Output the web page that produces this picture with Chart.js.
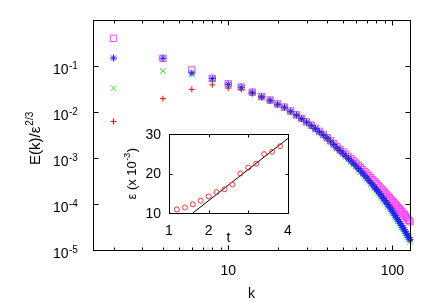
<!DOCTYPE html>
<html>
<head>
<meta charset="utf-8">
<script src="https://cdn.jsdelivr.net/npm/chart.js@4.4.1/dist/chart.umd.min.js"></script>
<style>
  body { margin: 0; background: #fff; }
  #wrap { position: relative; width: 436px; height: 305px; }
  #main { position: absolute; left: 0; top: 0; }
  #inset { position: absolute; left: 120px; top: 120px; }
</style>
</head>
<body>
<div id="wrap">
  <canvas id="main" width="436" height="305"></canvas>
  <canvas id="inset" width="190" height="130"></canvas>
</div>
<script>
// wavenumbers
const k = [2, 4, 6, 8, 10, 12, 14, 16, 18, 20, 22, 24, 26, 28, 30, 32, 34, 36, 38, 40,
  42, 44, 46, 48, 50, 52, 54, 56, 58, 60, 62, 64, 66, 68, 70, 72, 74, 76, 78, 80,
  82, 84, 86, 88, 90, 92, 94, 96, 98, 100, 102, 104, 106, 108, 110, 112, 114, 116, 118, 120,
  122, 124, 126, 128];

// magenta squares
const eSquare = [0.40, 0.147, 0.082, 0.054, 0.041, 0.035, 0.027, 0.0217, 0.0182, 0.0150,
  0.0128, 0.0105, 0.0087, 0.00727, 0.0061, 0.00518, 0.00443, 0.0038, 0.00327, 0.00277,
  0.00237, 0.00204, 0.00175, 0.00154, 0.00136, 0.00121, 0.00108, 0.000962, 0.000861, 0.000769,
  0.000689, 0.000618, 0.000557, 0.000501, 0.000451, 0.00041, 0.00037, 0.000337, 0.000307, 0.000279,
  0.000254, 0.000232, 0.000211, 0.000193, 0.000176, 0.000162, 0.000149, 0.000137, 0.000126, 0.000116,
  1.075e-4, 9.96e-5, 9.23e-5, 8.55e-5, 7.94e-5, 7.37e-5, 6.85e-5, 6.36e-5, 5.89e-5, 5.49e-5,
  5.11e-5, 4.76e-5, 4.42e-5, 4.12e-5];

// blue asterisks
const eStar = [0.149, 0.147, 0.0705, 0.0532, 0.040, 0.0345, 0.0268, 0.0215, 0.0180, 0.0148,
  0.0127, 0.0104, 0.00863, 0.00719, 0.00604, 0.00511, 0.00435, 0.00371, 0.00318, 0.00274,
  0.00232, 0.00197, 0.00167, 0.001455, 0.00127, 0.001114, 0.000977, 0.000861, 0.000759, 0.00067,
  0.000592, 0.000524, 0.000465, 0.000413, 0.000367, 0.000327, 0.00029, 0.000259, 0.000232, 0.000207,
  0.000185, 0.0001656, 0.0001483, 0.000133, 0.0001191, 0.0001071, 9.62e-5, 8.65e-5, 7.78e-5, 7.0e-5,
  6.3e-5, 5.68e-5, 5.12e-5, 4.61e-5, 4.17e-5, 3.76e-5, 3.4e-5, 3.07e-5, 2.77e-5, 2.51e-5,
  2.27e-5, 2.06e-5, 1.86e-5, 1.68e-5];

// green crosses
const eCross = [0.033, 0.078, 0.066, 0.050, 0.039, 0.034, 0.0258, 0.0206, 0.0172, 0.0142,
  0.0122, 0.0100, 0.00828, 0.0069, 0.00578, 0.00489, 0.00416, 0.00354, 0.00303, 0.00261,
  0.00221, 0.00187, 0.00158, 0.001378, 0.0012, 0.001052, 0.000921, 0.00081, 0.000713, 0.000629,
  0.000555, 0.00049, 0.000434, 0.000385, 0.000342, 0.000304, 0.00027, 0.00024, 0.000215, 0.000192,
  0.000171, 0.000153, 0.000137, 0.000123, 0.00011, 9.88e-5, 8.87e-5, 7.97e-5, 7.16e-5, 6.44e-5,
  5.8e-5, 5.22e-5, 4.7e-5, 4.23e-5, 3.82e-5, 3.44e-5, 3.11e-5, 2.81e-5, 2.53e-5, 2.29e-5,
  2.07e-5, 1.88e-5, 1.7e-5, 1.53e-5];

// red pluses
const ePlus = [0.0062, 0.0195, 0.031, 0.039, 0.033, 0.031, 0.025, 0.0205, 0.0172, 0.0143,
  0.0123, 0.0101, 0.00837, 0.00697, 0.00586, 0.00496, 0.00422, 0.0036, 0.00308, 0.00266,
  0.00225, 0.00191, 0.00162, 0.00141, 0.00123, 0.00108, 0.000948, 0.000835, 0.000736, 0.00065,
  0.000574, 0.000508, 0.000451, 0.000401, 0.000356, 0.000317, 0.000281, 0.000251, 0.000225, 0.000201,
  0.000179, 0.000161, 0.000144, 0.000129, 0.000116, 0.000104, 9.33e-5, 8.39e-5, 7.55e-5, 6.79e-5,
  6.11e-5, 5.51e-5, 4.97e-5, 4.47e-5, 4.04e-5, 3.65e-5, 3.3e-5, 2.98e-5, 2.69e-5, 2.43e-5,
  2.2e-5, 2.0e-5, 1.8e-5, 1.63e-5];

// inset: dissipation rate vs time
const tPts = [1.2, 1.4, 1.6, 1.8, 2.0, 2.2, 2.4, 2.6, 2.8, 3.0, 3.2, 3.4, 3.6, 3.8];
const epsPts = [10.9, 11.4, 12.2, 13.1, 14.2, 15.3, 16.0, 17.2, 20.0, 21.5, 22.5, 24.9, 25.5, 26.9];
const tFit = [1.6, 4.0];
const epsFit = [10, 28.9];

// ticks
const xMajor = [10, 100];
const xMajorLabels = ['10', '100'];
const xMinor = [2, 3, 4, 5, 6, 7, 8, 9, 20, 30, 40, 50, 60, 70, 80, 90];
const yMajor = [1e-1, 1e-2, 1e-3, 1e-4, 1e-5];
const yExpLabels = ['-1', '-2', '-3', '-4', '-5'];
const insetX = [1, 2, 3, 4];
const insetY = [10, 20, 30];

const FONT = '"Liberation Sans", Arial, sans-serif';

function pairs(xs, ys) {
  return xs.map((v, i) => ({ x: v, y: ys[i] }));
}

const mainAxes = {
  id: 'mainAxes',
  afterDraw(chart) {
    const { ctx, chartArea: a, scales: { x, y } } = chart;
    const L = Math.round(a.left) + 0.5, R = Math.round(a.right) + 0.5;
    const T = Math.round(a.top) + 0.5, B = Math.round(a.bottom) + 0.5;
    ctx.save();
    ctx.strokeStyle = '#000';
    ctx.lineWidth = 1;
    ctx.beginPath();
    xMinor.forEach((v) => {
      const px = Math.round(x.getPixelForValue(v)) + 0.5;
      ctx.moveTo(px, B); ctx.lineTo(px, B - 3);
      ctx.moveTo(px, T); ctx.lineTo(px, T + 3);
    });
    xMajor.forEach((v) => {
      const px = Math.round(x.getPixelForValue(v)) + 0.5;
      ctx.moveTo(px, B); ctx.lineTo(px, B - 5);
      ctx.moveTo(px, T); ctx.lineTo(px, T + 5);
    });
    yMajor.forEach((v) => {
      const py = Math.round(y.getPixelForValue(v)) + 0.5;
      ctx.moveTo(L, py); ctx.lineTo(L + 5, py);
      ctx.moveTo(R, py); ctx.lineTo(R - 5, py);
    });
    ctx.stroke();
    ctx.strokeRect(L, T, R - L, B - T);

    ctx.fillStyle = '#000';
    // x tick labels
    ctx.font = '14px ' + FONT;
    ctx.textAlign = 'center';
    ctx.textBaseline = 'alphabetic';
    xMajor.forEach((v, i) => {
      ctx.fillText(xMajorLabels[i], x.getPixelForValue(v), 275);
    });
    ctx.fillText('k', (a.left + a.right) / 2, 298);

    // y tick labels 10^n
    yMajor.forEach((v, i) => {
      const py = y.getPixelForValue(v);
      ctx.textAlign = 'left';
      ctx.font = '14px ' + FONT;
      ctx.fillText('10', 53, py + 8);
      ctx.font = '10px ' + FONT;
      ctx.fillText(yExpLabels[i], 69, py + 3);
    });

    // y title
    ctx.save();
    ctx.translate(40, 165);
    ctx.rotate(-Math.PI / 2);
    ctx.textAlign = 'left';
    ctx.font = '15px ' + FONT;
    const base = 'E(k)/\u03b5';
    ctx.fillText(base, 0, 0);
    const w = ctx.measureText(base).width;
    ctx.font = '10px ' + FONT;
    ctx.fillText('2/3', w + 1, -7);
    ctx.restore();
    ctx.restore();
  }
};

const insetAxes = {
  id: 'insetAxes',
  afterDraw(chart) {
    const { ctx, chartArea: a, scales: { x, y } } = chart;
    const L = Math.round(a.left) + 0.5, R = Math.round(a.right) + 0.5;
    const T = Math.round(a.top) + 0.5, B = Math.round(a.bottom) + 0.5;
    ctx.save();
    ctx.strokeStyle = '#000';
    ctx.lineWidth = 1;
    ctx.beginPath();
    insetX.slice(1, -1).forEach((v) => {
      const px = Math.round(x.getPixelForValue(v)) + 0.5;
      ctx.moveTo(px, B); ctx.lineTo(px, B - 3);
      ctx.moveTo(px, T); ctx.lineTo(px, T + 3);
    });
    insetY.slice(1, -1).forEach((v) => {
      const py = Math.round(y.getPixelForValue(v)) + 0.5;
      ctx.moveTo(L, py); ctx.lineTo(L + 3, py);
      ctx.moveTo(R, py); ctx.lineTo(R - 3, py);
    });
    ctx.stroke();
    ctx.strokeRect(L, T, R - L, B - T);

    ctx.fillStyle = '#000';
    ctx.font = '14px ' + FONT;
    ctx.textAlign = 'center';
    ctx.textBaseline = 'alphabetic';
    insetX.forEach((v) => {
      ctx.fillText(String(v), x.getPixelForValue(v), a.bottom + 22);
    });
    ctx.fillText('t', (a.left + a.right) / 2, a.bottom + 29);
    ctx.textAlign = 'right';
    ctx.textBaseline = 'middle';
    insetY.forEach((v) => {
      ctx.fillText(String(v), a.left - 8, y.getPixelForValue(v) + 1);
    });

    // inset y title
    ctx.save();
    ctx.translate(a.left - 33, (a.top + a.bottom) / 2 + 26);
    ctx.rotate(-Math.PI / 2);
    ctx.textAlign = 'left';
    ctx.textBaseline = 'alphabetic';
    ctx.font = '13px ' + FONT;
    const s1 = '\u03b5 (x 10';
    ctx.fillText(s1, 0, 0);
    let w = ctx.measureText(s1).width;
    ctx.font = '9px ' + FONT;
    ctx.fillText('-3', w + 0.5, -6);
    w += ctx.measureText('-3').width + 1;
    ctx.font = '13px ' + FONT;
    ctx.fillText(')', w, 0);
    ctx.restore();
    ctx.restore();
  }
};

new Chart(document.getElementById('main'), {
  type: 'scatter',
  data: {
    datasets: [
      { data: pairs(k, eSquare), pointStyle: 'rect', pointRadius: 4.5, borderColor: '#ff40ff', order: 3 },
      { data: pairs(k, ePlus), pointStyle: 'cross', pointRadius: 3, borderColor: '#ff0000', order: 2 },
      { data: pairs(k, eCross), pointStyle: 'crossRot', pointRadius: 4, borderColor: '#30e030', order: 1 },
      { data: pairs(k, eStar), pointStyle: 'star', pointRadius: 3.5, borderColor: '#2020ff', order: 0 },
    ].map((d) => Object.assign(d, { backgroundColor: 'transparent', borderWidth: 1, showLine: false, clip: 8 })),
  },
  options: {
    responsive: false,
    animation: false,
    events: [],
    layout: { padding: { left: 93, right: 26, top: 20, bottom: 55 } },
    plugins: { legend: { display: false }, tooltip: { enabled: false } },
    scales: {
      x: { type: 'logarithmic', min: 1.5, max: 128, display: false },
      y: { type: 'logarithmic', min: 1e-5, max: 1, display: false },
    },
  },
  plugins: [mainAxes],
});

new Chart(document.getElementById('inset'), {
  type: 'scatter',
  data: {
    datasets: [
      { data: pairs(tFit, epsFit), showLine: true, pointRadius: 0, borderColor: '#000', borderWidth: 1, order: 1 },
      { data: pairs(tPts, epsPts), pointStyle: 'circle', pointRadius: 2.5, borderColor: '#ff3030',
        backgroundColor: 'transparent', borderWidth: 1, showLine: false, order: 0 },
    ],
  },
  options: {
    responsive: false,
    animation: false,
    events: [],
    layout: { padding: { left: 49, right: 22, top: 14, bottom: 37 } },
    plugins: { legend: { display: false }, tooltip: { enabled: false } },
    scales: {
      x: { type: 'linear', min: 1, max: 4, display: false },
      y: { type: 'linear', min: 10, max: 30, display: false },
    },
  },
  plugins: [insetAxes],
});
</script>
</body>
</html>
